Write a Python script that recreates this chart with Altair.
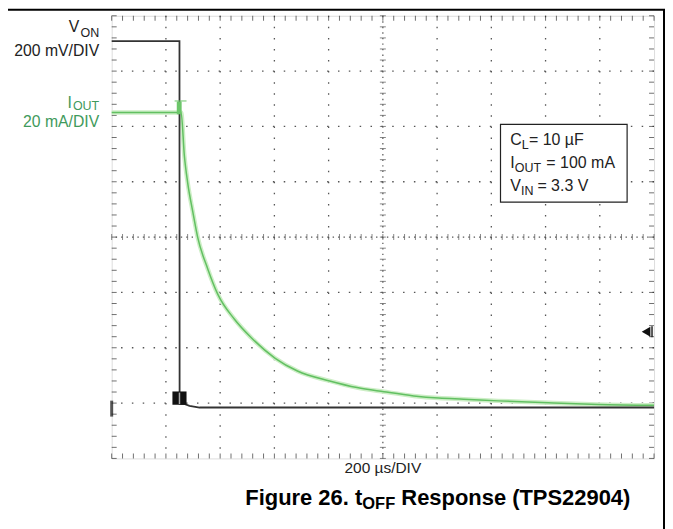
import altair as alt
import numpy as np
import pandas as pd

# ---------------- data ----------------
# I_OUT trace (mA) vs time (µs)
iout_time_us = [0, 250, 256, 268, 280, 299, 317, 354, 391, 452, 514, 603,
                685, 804, 905, 1004, 1114, 1206, 1298, 1426, 1610, 1794, 2000]
iout_mA = [106.6, 106.6, 106.6, 91.0, 81.4, 70.8, 61.6, 50.2, 41.0, 32.0, 25.3,
           17.8, 13.2, 9.6, 7.2, 5.7, 4.2, 3.4, 3.0, 2.4, 1.7, 1.1, 0.8]
# V_ON trace (V) vs time (µs)
von_time_us = [0, 250, 250.5, 270, 287, 324, 2000]
von_V = [1.324, 1.324, 0.013, 0.012, 0.006, 0.0, 0.0]

# scope settings
time_per_div_us = 200
v_per_div = 0.2
mA_per_div = 20
n_xdiv = 10
n_ydiv = 8
ground_div = 0.92          # channel ground marker level (divisions)
trigger_time_us = [250]    # trigger position
trigger_level_div = [2.29] # trigger level arrow (divisions)

# ---------------- derived tables ----------------
T_MAX = time_per_div_us * n_xdiv
iout_df = pd.DataFrame({"t": iout_time_us,
                        "d": [ground_div + v / mA_per_div for v in iout_mA]})
iout_df["i"] = range(len(iout_df))
von_df = pd.DataFrame({"t": von_time_us,
                       "d": [ground_div + v / v_per_div for v in von_V]})
von_df["i"] = range(len(von_df))

major_x = [k * time_per_div_us for k in range(1, n_xdiv) if k != n_xdiv // 2]
major_y = [k for k in range(1, n_ydiv) if k != n_ydiv // 2]
minor_x = [k * time_per_div_us / 5 for k in range(0, n_xdiv * 5 + 1)]
minor_y = [k / 5 for k in range(0, n_ydiv * 5 + 1)]

W, H = 544, 444
FONT = "Liberation Sans"

xs = alt.Scale(domain=[0, T_MAX], nice=False, zero=False)
ys = alt.Scale(domain=[0, n_ydiv], nice=False, zero=False)
X = alt.X("t:Q", scale=xs, axis=None)
Y = alt.Y("d:Q", scale=ys, axis=None)

one = pd.DataFrame({"k": [0]})
layers = []

# grid (dotted)
per_v = H / (n_ydiv * 5)
per_h = W / (n_xdiv * 5)
layers.append(alt.Chart(pd.DataFrame({"t": major_x})).mark_rule(
    color="#555", strokeWidth=1.3, strokeDash=[1.5, per_v - 1.5]).encode(x=X))
layers.append(alt.Chart(pd.DataFrame({"d": major_y})).mark_rule(
    color="#555", strokeWidth=1.3, strokeDash=[1.5, per_h - 1.5]).encode(y=Y))
# centre lines
layers.append(alt.Chart(pd.DataFrame({"t": [T_MAX / 2]})).mark_rule(
    color="#555", strokeWidth=1.2, strokeDash=[1.4, per_v / 2 - 1.4]).encode(x=X))
layers.append(alt.Chart(pd.DataFrame({"d": [n_ydiv / 2]})).mark_rule(
    color="#555", strokeWidth=1.2, strokeDash=[1.4, per_h / 2 - 1.4]).encode(y=Y))
# centre ticks
layers.append(alt.Chart(pd.DataFrame({"t": minor_x, "d": n_ydiv / 2})).mark_tick(
    orient="vertical", size=6, thickness=1, color="#555").encode(x=X, y=Y))
layers.append(alt.Chart(pd.DataFrame({"d": minor_y, "t": T_MAX / 2})).mark_tick(
    orient="horizontal", size=6, thickness=1, color="#555").encode(x=X, y=Y))
# border ticks
layers.append(alt.Chart(pd.DataFrame({"t": minor_x, "d": n_ydiv})).mark_tick(
    orient="vertical", size=5, thickness=1, color="#333", yOffset=2.5).encode(x=X, y=Y))
layers.append(alt.Chart(pd.DataFrame({"t": minor_x, "d": 0})).mark_tick(
    orient="vertical", size=5, thickness=1, color="#333", yOffset=-2.5).encode(x=X, y=Y))
layers.append(alt.Chart(pd.DataFrame({"d": minor_y, "t": 0})).mark_tick(
    orient="horizontal", size=5, thickness=1, color="#333", xOffset=2.5).encode(x=X, y=Y))
layers.append(alt.Chart(pd.DataFrame({"d": minor_y, "t": T_MAX})).mark_tick(
    orient="horizontal", size=5, thickness=1, color="#333", xOffset=-2.5).encode(x=X, y=Y))

# traces
layers.append(alt.Chart(iout_df).mark_line(color="#cdeec6", strokeWidth=4.5,
                                           interpolate="monotone").encode(x=X, y=Y, order="i:Q"))
layers.append(alt.Chart(iout_df).mark_line(color="#62c062", strokeWidth=1.5,
                                           interpolate="monotone").encode(x=X, y=Y, order="i:Q"))
layers.append(alt.Chart(von_df).mark_line(color="#333", strokeWidth=1.8).encode(
    x=X, y=Y, order="i:Q"))

# markers
trig = pd.DataFrame({"t": [trigger_time_us[0] - 26], "t2": [trigger_time_us[0] + 26],
                     "d": [ground_div + 0.05], "d2": [ground_div + 0.29]})
layers.append(alt.Chart(trig).mark_rect(color="#111").encode(
    x=X, x2="t2:Q", y=Y, y2="d2:Q"))
layers.append(alt.Chart(pd.DataFrame({"t": trigger_time_us, "d": [ground_div + 0.06],
                                      "d2": [ground_div + 0.27]})).mark_rule(
    color="#aaa", strokeWidth=1.5).encode(x=X, y=Y, y2="d2:Q"))
gtrig = pd.DataFrame({"t": [trigger_time_us[0] - 10], "t2": [trigger_time_us[0] + 8],
                      "d": [6.22], "d2": [6.45]})
layers.append(alt.Chart(gtrig).mark_rect(color="#6cc66a").encode(
    x=X, x2="t2:Q", y=Y, y2="d2:Q"))
layers.append(alt.Chart(pd.DataFrame({"t": [trigger_time_us[0] - 18],
                                      "t2": [trigger_time_us[0] + 26], "d": [6.46]})).mark_rule(
    color="#6cc66a", strokeWidth=1).encode(x=X, x2="t2:Q", y=Y))
# ground marker at left
layers.append(alt.Chart(pd.DataFrame({"t": [0], "d": [ground_div - 0.02]})).mark_tick(
    orient="vertical", size=16, thickness=3, color="#111", xOffset=0).encode(x=X, y=Y))
# trigger level arrow at right
layers.append(alt.Chart(pd.DataFrame({"t": [T_MAX], "d": trigger_level_div})).mark_point(
    shape="triangle-left", filled=True, size=100, color="#111", opacity=1, xOffset=-8).encode(x=X, y=Y))
layers.append(alt.Chart(pd.DataFrame({"t": [T_MAX], "d": trigger_level_div})).mark_tick(
    orient="vertical", size=11, thickness=2, color="#111", xOffset=-2).encode(x=X, y=Y))

# annotation box
layers.append(alt.Chart(one).mark_rect(fill="white", stroke="#222", strokeWidth=1.2).encode(
    x=alt.value(390), x2=alt.value(517), y=alt.value(109), y2=alt.value(187)))


def txt(s, x, y, size, color="#222", align="left", weight="normal"):
    return alt.Chart(one).mark_text(text=s, fontSize=size, color=color, align=align,
                                    baseline="alphabetic", font=FONT, fontWeight=weight
                                    ).encode(x=alt.value(x), y=alt.value(y))


GREEN = "#3f9a5c"
# channel labels
layers += [
    txt("V", -32.5, 16.7, 15.8, align="right"),
    txt("ON", -12.5, 21, 12.5, align="right"),
    txt("200 mV/DIV", -12.5, 40, 15.8, align="right"),
    txt("I", -40, 92.5, 15.8, color=GREEN, align="right"),
    txt("OUT", -12.5, 95, 12.5, color=GREEN, align="right"),
    txt("20 mA/DIV", -12.5, 111.7, 15.8, color=GREEN, align="right"),
]
# box text
layers += [
    txt("C", 399.7, 130, 16), txt("L", 411.3, 134, 12.5), txt("= 10 µF", 418.5, 130, 16),
    txt("I", 399.7, 153, 16), txt("OUT", 404.4, 157, 12.5), txt("= 100 mA", 436, 153, 16),
    txt("V", 399.7, 176, 16), txt("IN", 410.6, 180, 12.5), txt("= 3.3 V", 427, 176, 16),
]
# x label and caption
layers += [
    txt("200 µs/DIV", 272, 459, 15.5, align="center"),
    txt("Figure 26. t", 134, 491, 22, color="#000", weight="bold"),
    txt("OFF", 251.4, 495, 16.5, color="#000", weight="bold"),
    txt("Response (TPS22904)", 290.5, 491, 22, color="#000", weight="bold"),
]
# page frame (top and right)
layers.append(alt.Chart(one).mark_rule(color="#000", strokeWidth=2).encode(
    x=alt.value(-104), x2=alt.value(555), y=alt.value(-6)))
layers.append(alt.Chart(one).mark_rule(color="#000", strokeWidth=2).encode(
    x=alt.value(554), y=alt.value(-6), y2=alt.value(520)))

chart = alt.layer(*layers).properties(
    width=W, height=H,
    autosize=alt.AutoSizeParams(type="none"),
    padding={"left": 104, "top": 7, "right": 11, "bottom": 70},
).configure_view(stroke="#222", strokeWidth=2).configure(background="white")

chart.save("out.html", embed_options={"renderer": "svg", "actions": False})
